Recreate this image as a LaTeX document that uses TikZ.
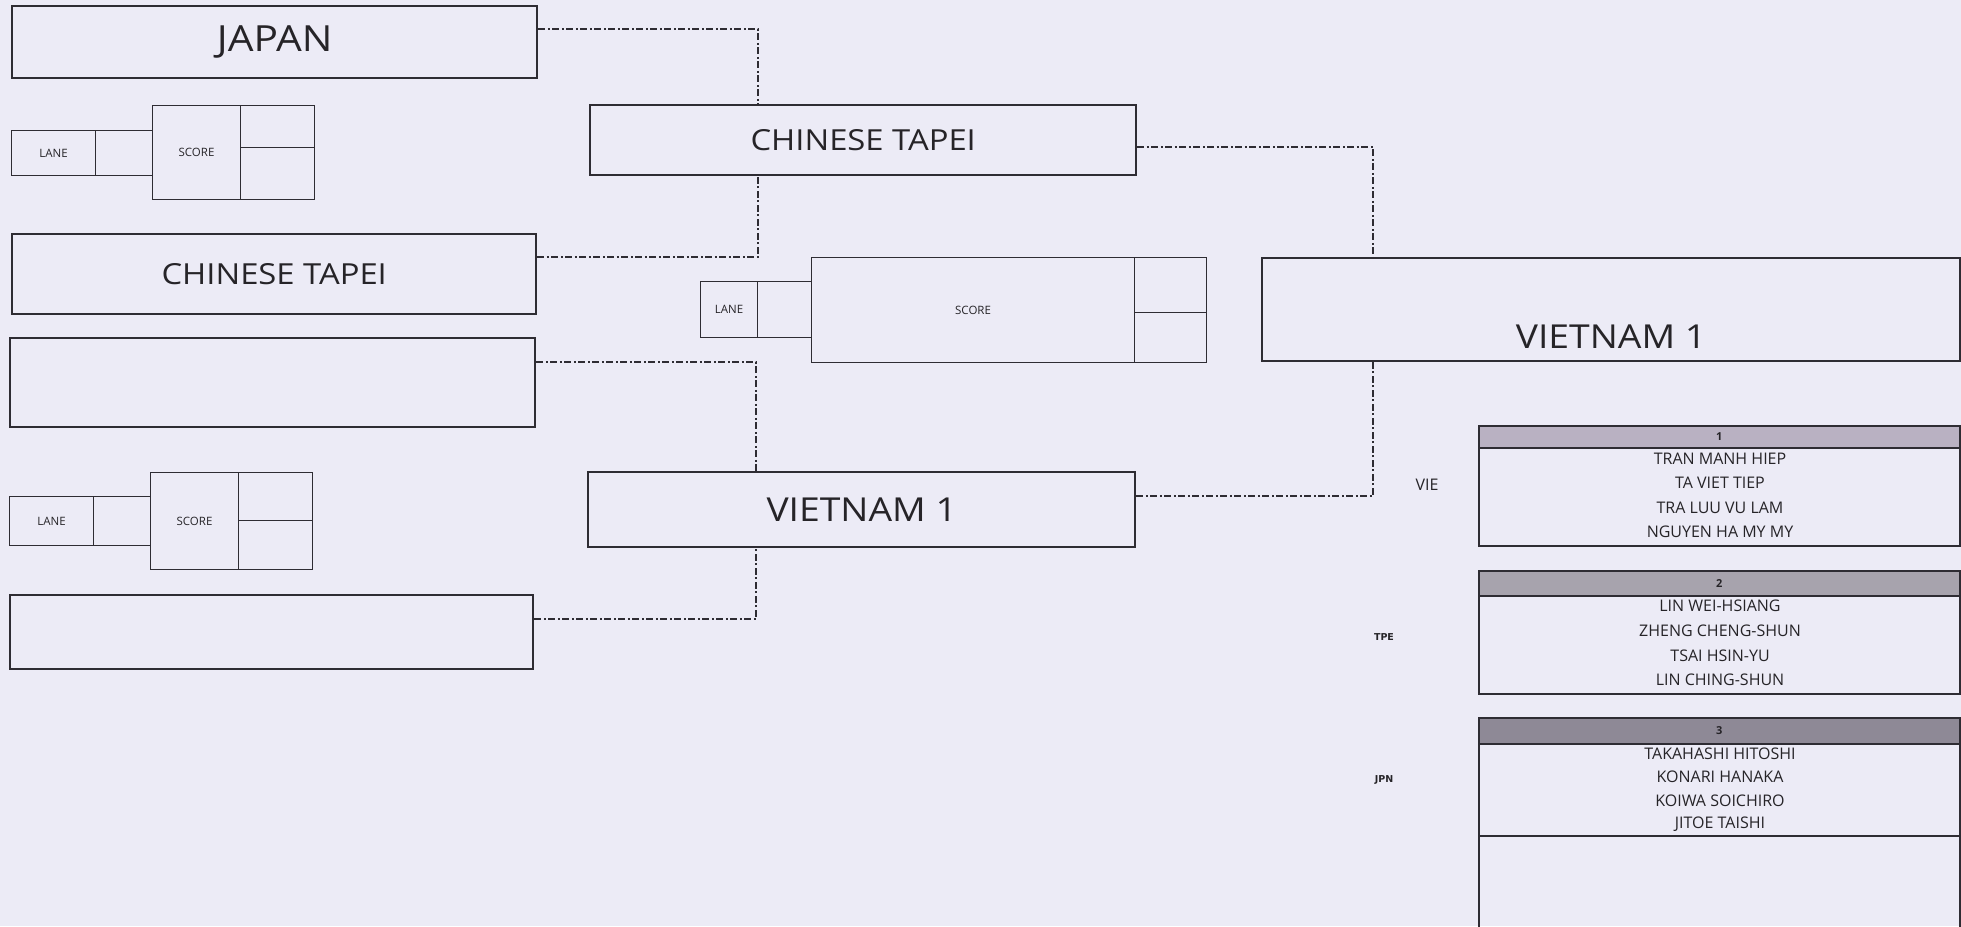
\documentclass[tikz,border=0pt]{standalone}
\usepackage{fontspec}
\setmainfont{Open Sans}
\newfontfamily\widefont[FakeStretch=1.13]{Open Sans}
\newfontfamily\tahoma{DejaVu Sans}
\usetikzlibrary{calc}
\definecolor{bg}{HTML}{ECEBF6}
\definecolor{lc}{HTML}{2E2C33}
\definecolor{tc}{HTML}{262428}
\definecolor{hfa}{HTML}{B9B1C2}
\definecolor{hfb}{HTML}{A7A3AD}
\definecolor{hfc}{HTML}{8E8996}
\begin{document}
\begin{tikzpicture}[x=1pt,y=-1pt,
  team/.style={draw=lc, line width=2.4pt, anchor=north west, inner sep=0pt, text=tc},
  cell/.style={draw=lc, line width=1.1pt, anchor=north west, inner sep=0pt, text=tc, font=\fontsize{11.5}{12}\selectfont},
  conn/.style={draw=lc, line width=2.2pt, dash pattern=on 7pt off 2.5pt on 2pt off 2.5pt},
  hdr/.style={draw=lc, line width=1.5pt, anchor=north west, inner sep=0pt, text=tc, font=\fontsize{11}{12}\selectfont\bfseries},
  tbl/.style={draw=lc, line width=1.5pt, anchor=north west, inner sep=0pt},
  pname/.style={text=tc, inner sep=0pt, font=\fontsize{16}{18}\selectfont},
  ccode/.style={text=tc, inner sep=0pt, font=\tahoma\bfseries\fontsize{9.5}{11}\selectfont},
  ctfont/.style={font=\widefont\fontsize{29}{32}\selectfont},
  vnfont/.style={font=\widefont\fontsize{33}{36}\selectfont}
]
\path[use as bounding box, fill=bg] (0,0) rectangle (1961,926);
\clip (0,0) rectangle (1961,926);

% first round team boxes
\node[team, minimum width=525pt, minimum height=72pt, font=\widefont\fontsize{36}{38}\selectfont] (jp) at (11,5) {JAPAN};
\node[team, ctfont, minimum width=524pt, minimum height=80pt] (ctL) at (11,233) {CHINESE TAPEI};
\node[team, minimum width=525pt, minimum height=89pt] (e1) at (9,337) {};
\node[team, minimum width=523pt, minimum height=74pt] (e2) at (9,594) {};

% semi-final boxes
\node[team, ctfont, minimum width=546pt, minimum height=70pt] (ctM) at (589,104) {CHINESE TAPEI};
\node[team, vnfont, minimum width=547pt, minimum height=75pt] (vnM) at (587,471) {VIETNAM 1};

% final box
\node[team, minimum width=698pt, minimum height=103pt] (fin) at (1261,257) {};
\node[text=tc, inner sep=0pt, vnfont] (finT) at (1611,337) {VIETNAM 1};

% lane / score group 1
\node[cell, minimum width=84pt, minimum height=45pt] (l1) at (11,130) {LANE};
\node[cell, minimum width=57pt, minimum height=45pt] (l1b) at (95,130) {};
\node[cell, minimum width=88pt, minimum height=94pt] (s1) at (152,105) {SCORE};
\node[cell, minimum width=74pt, minimum height=42pt] (s1a) at (240,105) {};
\node[cell, minimum width=74pt, minimum height=52pt] (s1b) at (240,147) {};

% lane / score group 2
\node[cell, minimum width=84pt, minimum height=49pt] (l2) at (9,496) {LANE};
\node[cell, minimum width=57pt, minimum height=49pt] (l2b) at (93,496) {};
\node[cell, minimum width=88pt, minimum height=97pt] (s2) at (150,472) {SCORE};
\node[cell, minimum width=74pt, minimum height=48pt] (s2a) at (238,472) {};
\node[cell, minimum width=74pt, minimum height=49pt] (s2b) at (238,520) {};

% lane / score group 3 (semi-final)
\node[cell, minimum width=57pt, minimum height=56pt] (l3) at (700,281) {LANE};
\node[cell, minimum width=54pt, minimum height=56pt] (l3b) at (757,281) {};
\node[cell, minimum width=323pt, minimum height=105pt] (s3) at (811,257) {SCORE};
\node[cell, minimum width=72pt, minimum height=55pt] (s3a) at (1134,257) {};
\node[cell, minimum width=72pt, minimum height=50pt] (s3b) at (1134,312) {};

% connectors
\draw[conn] ($(jp.north east)+(0,24)$) -| ($(ctM.north west)+(169,0)$);
\draw[conn] ($(ctL.north east)+(0,24)$) -| ($(ctM.south west)+(169,0)$);
\draw[conn] ($(e1.north east)+(0,25)$) -| ($(vnM.north west)+(169,0)$);
\draw[conn] ($(e2.north east)+(0,25)$) -| ($(vnM.south west)+(169,0)$);
\draw[conn] ($(ctM.north east)+(0,43)$) -| ($(fin.north west)+(112,0)$);
\draw[conn] ($(vnM.north east)+(0,25)$) -| ($(fin.south west)+(112,0)$);

% team tables
\node[hdr, fill=hfa, minimum width=481pt, minimum height=22pt] (h1) at (1478,425) {1};
\node[tbl, minimum width=481pt, minimum height=98pt] (b1) at (1478,447) {};
\node[pname] (p11) at (1720,459) {TRAN MANH HIEP};
\node[pname] (p12) at (1720,483) {TA VIET TIEP};
\node[pname] (p13) at (1720,508) {TRA LUU VU LAM};
\node[pname] (p14) at (1720,532) {NGUYEN HA MY MY};

\node[hdr, fill=hfb, minimum width=481pt, minimum height=25pt] (h2) at (1478,570) {2};
\node[tbl, minimum width=481pt, minimum height=98pt] (b2) at (1478,595) {};
\node[pname] (p21) at (1720,606) {LIN WEI-HSIANG};
\node[pname] (p22) at (1720,631) {ZHENG CHENG-SHUN};
\node[pname] (p23) at (1720,656) {TSAI HSIN-YU};
\node[pname] (p24) at (1720,680) {LIN CHING-SHUN};

\node[hdr, fill=hfc, minimum width=481pt, minimum height=26pt] (h3) at (1478,717) {3};
\node[tbl, minimum width=481pt, minimum height=92pt] (b3) at (1478,743) {};
\node[tbl, minimum width=481pt, minimum height=120pt] (b3x) at (1478,835) {};
\node[pname] (p31) at (1720,754) {TAKAHASHI HITOSHI};
\node[pname] (p32) at (1720,777) {KONARI HANAKA};
\node[pname] (p33) at (1720,801) {KOIWA SOICHIRO};
\node[pname] (p34) at (1720,824) {JITOE TAISHI};

% country codes
\node[text=tc, inner sep=0pt, font=\fontsize{16}{17}\selectfont] (vie) at (1427,485) {VIE};
\node[ccode] (tpe) at (1384,637) {TPE};
\node[ccode] (jpn) at (1384,780) {JPN};
\end{tikzpicture}
\end{document}
